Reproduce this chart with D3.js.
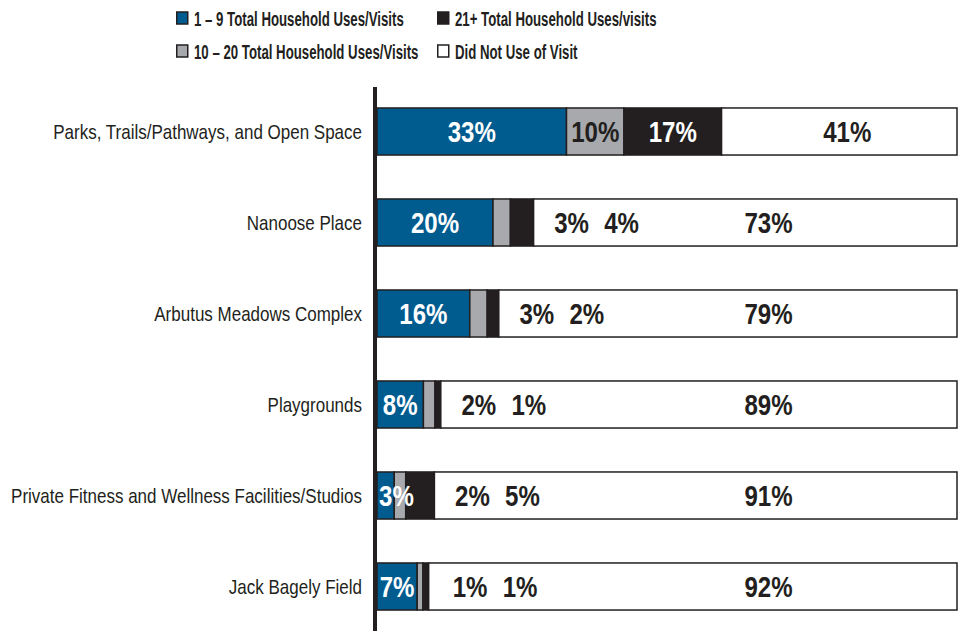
<!DOCTYPE html>
<html>
<head>
<meta charset="utf-8">
<script src="https://cdn.jsdelivr.net/npm/d3@7"></script>
<style>
  body { margin: 0; background: #fff; }
  svg text { font-family: "Liberation Sans", Arial, sans-serif; fill: #231f20; }
</style>
</head>
<body>
<svg id="chart" width="961" height="631"></svg>
<script>
// data
var categories = ["Parks, Trails/Pathways, and Open Space", "Nanoose Place", "Arbutus Meadows Complex",
  "Playgrounds", "Private Fitness and Wellness Facilities/Studios", "Jack Bagely Field"]
var uses1to9 = [33, 20, 16, 8, 3, 7]
var uses10to20 = [10, 3, 3, 2, 2, 1]
var uses21plus = [17, 4, 2, 1, 5, 1]
var didNotUse = [41, 73, 79, 89, 91, 92]
var seriesNames = ["1 \u2013 9 Total Household Uses/Visits", "10 \u2013 20 Total Household Uses/Visits",
  "21+ Total Household Uses/visits", "Did Not Use of Visit"]

var keys = ["a", "b", "c", "d"]
var colors = {a: "#005b8f", b: "#a7a9ac", c: "#231f20", d: "#ffffff"}
var labelColor = {a: "#ffffff", b: "#231f20", c: "#ffffff", d: "#231f20"}

// no condensed face installed, so squeeze text sideways
var squeezeCat = 0.85, squeezeLeg = 0.63, squeezeVal = 0.83

var rows = categories.map(function(c, i){
  return {cat: c, a: uses1to9[i], b: uses10to20[i], c: uses21plus[i], d: didNotUse[i]}
})

var svg = d3.select("#chart")

var x = d3.scaleLinear().domain([0, 1]).range([377, 957])
var y = d3.scaleBand().domain(categories).range([86, 632]).paddingInner(0.483).paddingOuter(0.2415)

var stackData = d3.stack().keys(keys).offset(d3.stackOffsetExpand)(rows)

function squeezed(sel, px, py, s){
  return sel.attr("transform", "translate(" + px + "," + py + ") scale(" + s + ",1)")
}

// legend
var legendPos = [[176, 18], [176, 51], [437, 18], [437, 51]]
var legend = svg.append("g")
keys.forEach(function(k, i){
  var g = legend.append("g").attr("transform", "translate(" + legendPos[i][0] + "," + legendPos[i][1] + ")")
  g.append("rect").attr("x", 0.75).attr("y", -6).attr("width", 11).attr("height", 12)
    .style("fill", colors[k]).style("stroke", "#231f20").style("stroke-width", 1.5)
  squeezed(g.append("text"), 18, 0, squeezeLeg).attr("dy", "0.36em")
    .style("font-size", "21px").style("font-weight", "bold")
    .text(seriesNames[i])
})

// bars
var layers = svg.selectAll(".layer").data(stackData).enter().append("g").attr("class", "layer")
layers.selectAll("rect").data(function(d){ return d.map(function(p){ p.key = d.key; return p }) })
  .enter().append("rect")
  .attr("x", function(d){ return x(d[0]) })
  .attr("y", function(d){ return y(d.data.cat) })
  .attr("width", function(d){ return x(d[1]) - x(d[0]) })
  .attr("height", y.bandwidth())
  .style("fill", function(d){ return colors[d.key] })
  .style("stroke", "#231f20")
  .style("stroke-width", 1.5)

// axis line
svg.append("line").attr("x1", 375).attr("x2", 375).attr("y1", 87).attr("y2", 631)
  .style("stroke", "#231f20").style("stroke-width", 4)

// category labels
svg.selectAll(".cat").data(categories).enter().append("text")
  .attr("class", "cat")
  .attr("transform", function(d){ return "translate(362," + (y(d) + y.bandwidth()/2) + ") scale(" + squeezeCat + ",1)" })
  .attr("dy", "0.36em")
  .attr("text-anchor", "end")
  .style("font-size", "20px")
  .text(function(d){ return d })

// value labels
var labels = svg.append("g")
rows.forEach(function(r, i){
  var segs = stackData.map(function(l){ return l[i] })
  var cy = y(r.cat) + y.bandwidth()/2
  var outside = []
  segs.forEach(function(s, j){
    var k = keys[j]
    var x0 = x(s[0]), x1 = x(s[1])
    var t = labels.append("text").attr("dy", "0.36em").attr("text-anchor", "middle")
      .style("font-size", "29px").style("font-weight", "bold")
      .text(r[k] + "%")
    var w = t.node().getComputedTextLength() * squeezeVal
    var cx = (x0 + x1) / 2
    if (k == "a") {
      cx = Math.max(cx, x0 + w/2 + 2)
    } else if (k == "d") {
      cx = Math.max(cx + 8, x(0.675))
    } else if (x1 - x0 < w + 2) {
      outside.push(t)
      return
    }
    t.style("fill", labelColor[k])
    squeezed(t, cx, cy, squeezeVal)
  })
  var whiteStart = x(segs[3][0])
  var first = Math.max(whiteStart + 38, 470)
  outside.forEach(function(t, n){
    squeezed(t, first + n*50, cy, squeezeVal).style("fill", "#231f20")
  })
})
</script>
</body>
</html>
